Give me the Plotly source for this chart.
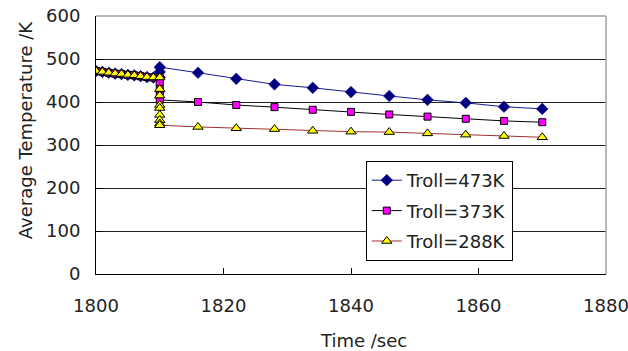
import plotly.graph_objects as go

# ---- data ----
time_early = [1800, 1801, 1802, 1803, 1804, 1805, 1806, 1807, 1808, 1809]
temp_early = [472, 470, 468, 466, 465, 463, 462, 460, 458, 457]

time_late = [1816, 1822, 1828, 1834, 1840, 1846, 1852, 1858, 1864, 1870]

jump_473 = [457, 470, 481]
late_473 = [468, 454, 441, 433, 423, 414, 405, 398, 389, 384]

jump_373 = [457, 445, 430, 415, 405]
late_373 = [400, 393, 388, 382, 377, 371, 366, 361, 356, 353]

jump_288 = [457, 430, 415, 393, 386, 370, 358, 350, 346]
late_288 = [342, 339, 337, 333, 331, 330, 327, 324, 321, 318]

jump_time = 1810
labels = ["Troll=473K", "Troll=373K", "Troll=288K"]

x_ticks = [1800, 1820, 1840, 1860, 1880]
y_ticks = [0, 100, 200, 300, 400, 500, 600]

FONT = "DejaVu Sans"
TXT = "#222222"


def series(jump, late):
    xs = time_early + [jump_time] * len(jump) + time_late
    ys = temp_early + jump + late
    return xs, ys


fig = go.Figure()

x1, y1 = series(jump_473, late_473)
fig.add_trace(go.Scatter(
    x=x1, y=y1, mode="lines+markers", name=labels[0], legendgroup="a",
    line=dict(color="#1a1a90", width=1),
    marker=dict(symbol="diamond", size=9, color="#000080",
                line=dict(color="#000080", width=0.5)),
))

x2, y2 = series(jump_373, late_373)
fig.add_trace(go.Scatter(
    x=x2, y=y2, mode="lines+markers", name=labels[1], legendgroup="b",
    line=dict(color="#000000", width=1),
    marker=dict(symbol="square", size=7, color="#ff00ff",
                line=dict(color="#000000", width=1)),
))

x3, y3 = series(jump_288, late_288)
fig.add_trace(go.Scatter(
    x=x3, y=y3, mode="lines+markers", name=labels[2], legendgroup="c",
    line=dict(color="#a03030", width=1),
    marker=dict(symbol="triangle-up", size=9, color="#ffff00",
                line=dict(color="#000000", width=1)),
))

fig.update_layout(
    width=628, height=351,
    margin=dict(l=96, r=22, t=16, b=77, autoexpand=False),
    paper_bgcolor="white", plot_bgcolor="white",
    font=dict(family=FONT, size=18, color=TXT),
    showlegend=True,
    legend=dict(
        x=0.529, y=0.438, xanchor="left", yanchor="top",
        bgcolor="white", bordercolor="#000000", borderwidth=1,
        font=dict(family=FONT, size=18, color=TXT),
        traceorder="grouped", tracegroupgap=4,
        itemwidth=30,
    ),
    xaxis=dict(
        range=[1800, 1880], tickvals=x_ticks, ticktext=[str(v) for v in x_ticks],
        showgrid=False, zeroline=False, automargin=False,
        showline=True, linecolor="#000000", linewidth=1,
        ticks="inside", ticklen=6, tickcolor="#000000",
        tickfont=dict(family=FONT, size=18, color=TXT),
        ticklabelstandoff=15, ticklabeloverflow="allow",
    ),
    yaxis=dict(
        range=[0, 600], tickvals=y_ticks, ticktext=[str(v) for v in y_ticks],
        showgrid=True, gridcolor="#222222", gridwidth=1, zeroline=False,
        automargin=False,
        showline=True, linecolor="#000000", linewidth=1,
        ticks="inside", ticklen=6, tickcolor="#000000",
        tickfont=dict(family=FONT, size=18, color=TXT),
        ticklabelstandoff=11, ticklabeloverflow="allow",
    ),
    shapes=[
        dict(type="line", xref="paper", yref="paper", x0=0, x1=1, y0=1, y1=1,
             line=dict(color="#a0a0a0", width=1.5)),
        dict(type="line", xref="paper", yref="paper", x0=1, x1=1, y0=0, y1=1,
             line=dict(color="#a0a0a0", width=1.5)),
    ],
    annotations=[
        dict(text="Average Temperature /K", xref="paper", yref="paper",
             x=-0.139, y=0.558, xanchor="center", yanchor="middle",
             textangle=-90, showarrow=False,
             font=dict(family=FONT, size=18, color=TXT)),
        dict(text="Time /sec", xref="paper", yref="paper",
             x=0.525, y=-0.259, xanchor="center", yanchor="middle",
             showarrow=False, font=dict(family=FONT, size=18, color=TXT)),
    ],
)

# Remove the browser's default 8px body margin so the 628x351 figure fills the window.
fig.write_html("out.html", config={"displayModeBar": False},
               post_script="document.body.style.margin='0';")
